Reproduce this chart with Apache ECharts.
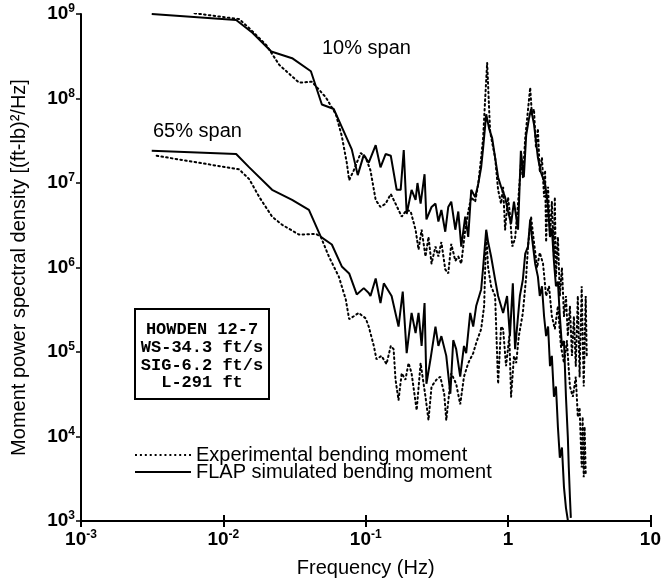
<!DOCTYPE html>
<html style="height: 100%">
<head>
<meta charset="utf-8">
<script src="https://cdn.jsdelivr.net/npm/echarts@6/dist/echarts.min.js"></script>
<title>Moment power spectral density</title>
</head>
<body style="height: 100%; margin: 0; background: #fff">
<div id="container" style="width: 664px; height: 583px"></div>
<script type="text/javascript">

// [frequency Hz, PSD (ft-lb)^2/Hz]
const sim10 = [
  [0.00314, 1.0e9], [0.0123, 8.5e8], [0.0160, 6.0e8], [0.0217, 3.6e8], [0.0304, 3.0e8],
  [0.0412, 2.1e8], [0.0492, 8.5e7], [0.0597, 7.5e7], [0.0798, 2.5e7], [0.0879, 1.24e7],
  [0.0969, 2.15e7], [0.105, 1.74e7], [0.1175, 2.8e7], [0.127, 1.53e7], [0.138, 2.2e7],
  [0.150, 2.1e7], [0.165, 8.3e6], [0.176, 8.3e6], [0.185, 2.46e7], [0.194, 4.3e6],
  [0.210, 8.3e6], [0.224, 6.3e6], [0.231, 1.0e7], [0.243, 5.7e6], [0.259, 1.27e7],
  [0.267, 3.7e6], [0.290, 5.2e6], [0.309, 5.7e6], [0.324, 3.5e6], [0.340, 4.8e6],
  [0.362, 2.65e6], [0.380, 5.2e6], [0.399, 6.0e6], [0.426, 2.8e6], [0.447, 4.6e6],
  [0.469, 1.77e6], [0.500, 4.0e6], [0.525, 2.3e6], [0.551, 8.3e6], [0.587, 6.8e6],
  [0.617, 9.7e6], [0.647, 1.53e7], [0.668, 2.6e7], [0.702, 6.5e7], [0.736, 4.4e7],
  [0.773, 3.4e7], [0.811, 2.0e7], [0.851, 1.17e7], [0.893, 9.0e6], [0.953, 6.8e6],
  [1.00, 4.6e6], [1.05, 3.3e6], [1.10, 6.0e6], [1.175, 2.8e6], [1.23, 2.4e7],
  [1.29, 1.17e7], [1.34, 3.66e7], [1.40, 5.7e7], [1.45, 7.5e7], [1.52, 5.0e7],
  [1.62, 2.0e7], [1.70, 1.34e7], [1.82, 9.7e6], [1.91, 5.2e6], [1.97, 2.3e6],
  [2.03, 2.9e6], [2.10, 1.18e6], [2.17, 6.0e5], [2.24, 6.8e5], [2.31, 2.65e5],
  [2.39, 1.18e5], [2.47, 1.35e5], [2.55, 2.95e4], [2.63, 9.7e3], [2.67, 4.3e3],
  [2.72, 1.9e3], [2.76, 1.09e3]
];

const exp10 = [
  [0.00627, 1.02e9], [0.0129, 8.7e8], [0.0152, 6.8e8], [0.0200, 4.3e8], [0.0247, 2.5e8],
  [0.0340, 1.54e8], [0.0419, 1.58e8], [0.0525, 1.03e8], [0.0617, 6.5e7], [0.0679, 3.6e7],
  [0.0736, 1.74e7], [0.0765, 1.08e7], [0.0824, 1.41e7], [0.0923, 2.27e7], [0.100, 2.0e7],
  [0.108, 1.41e7], [0.1175, 6.3e6], [0.127, 5.2e6], [0.138, 5.7e6], [0.150, 7.4e6],
  [0.162, 5.7e6], [0.179, 4.0e6], [0.194, 4.8e6], [0.207, 4.6e6], [0.224, 2.8e6],
  [0.235, 1.63e6], [0.247, 2.8e6], [0.263, 1.35e6], [0.276, 2.3e6], [0.290, 1.11e6],
  [0.309, 1.77e6], [0.324, 1.35e6], [0.340, 2.0e6], [0.362, 9.5e5], [0.380, 8.5e5],
  [0.399, 1.9e6], [0.426, 1.2e6], [0.447, 1.35e6], [0.469, 1.11e6], [0.500, 2.8e6],
  [0.525, 4.6e6], [0.551, 6.8e6], [0.587, 6.0e6], [0.617, 9.7e6], [0.647, 2.0e7],
  [0.668, 3.4e7], [0.690, 9.7e7], [0.713, 2.65e8], [0.736, 7.5e7], [0.748, 4.1e7],
  [0.773, 3.0e7], [0.811, 2.0e7], [0.851, 8.3e6], [0.893, 5.7e6], [0.923, 9.0e6],
  [0.953, 2.8e6], [1.00, 6.8e6], [1.03, 4.3e6], [1.07, 1.77e6], [1.12, 2.2e6],
  [1.175, 5.7e6], [1.23, 1.65e7], [1.27, 1.17e7], [1.32, 3.4e7], [1.36, 5.7e7],
  [1.43, 1.35e8], [1.47, 6.5e7], [1.52, 7.5e7], [1.57, 2.6e7], [1.62, 4.4e7],
  [1.67, 1.34e7], [1.73, 2.0e7], [1.79, 6.8e6], [1.82, 1.41e7], [1.85, 2.0e6],
  [1.91, 9.0e6], [1.97, 2.3e6], [2.03, 6.0e6], [2.10, 1.35e6], [2.13, 6.8e6],
  [2.17, 7.8e5], [2.24, 2.3e6], [2.31, 4.6e5], [2.39, 1.0e6], [2.47, 2.65e5],
  [2.55, 4.6e5], [2.63, 1.54e5], [2.72, 3.5e5], [2.81, 9.0e4], [2.90, 2.65e5],
  [2.99, 6.8e4], [3.09, 4.6e5], [3.18, 5.1e4], [3.29, 6.0e5], [3.40, 3.9e4],
  [3.51, 4.6e5], [3.57, 9.0e4]
];

const sim65 = [
  [0.00314, 2.4e7], [0.0123, 2.2e7], [0.0152, 1.53e7], [0.0220, 8.3e6], [0.0304, 6.3e6],
  [0.0399, 4.8e6], [0.0484, 2.3e6], [0.0578, 1.87e6], [0.0679, 1.03e6], [0.0765, 8.5e5],
  [0.0865, 4.8e5], [0.0969, 5.7e5], [0.105, 5.0e5], [0.108, 4.6e5], [0.1175, 7.4e5],
  [0.127, 3.8e5], [0.134, 6.5e5], [0.152, 4.6e5], [0.170, 2.0e5], [0.182, 5.2e5],
  [0.194, 9.7e4], [0.210, 2.9e5], [0.224, 1.67e5], [0.235, 2.9e5], [0.247, 1.18e5],
  [0.259, 3.8e5], [0.267, 4.2e4], [0.285, 8.2e4], [0.309, 2.0e5], [0.324, 1.18e5],
  [0.340, 1.54e5], [0.368, 9.0e4], [0.393, 3.2e4], [0.412, 1.38e5], [0.432, 1.08e5],
  [0.461, 5.1e4], [0.490, 1.18e5], [0.508, 9.7e4], [0.542, 2.9e5], [0.569, 2.0e5],
  [0.597, 3.5e5], [0.647, 5.5e5], [0.668, 1.0e6], [0.702, 2.8e6], [0.724, 2.0e6],
  [0.760, 1.35e6], [0.811, 7.2e5], [0.851, 4.6e5], [0.923, 2.9e5], [0.984, 4.6e5],
  [1.03, 1.54e5], [1.08, 6.5e5], [1.12, 1.08e5], [1.175, 2.65e5], [1.21, 4.6e5],
  [1.27, 7.2e5], [1.32, 1.46e6], [1.38, 1.77e6], [1.43, 3.7e6], [1.47, 2.3e6],
  [1.55, 1.11e6], [1.62, 7.8e5], [1.67, 4.6e5], [1.73, 6.0e5], [1.79, 2.65e5],
  [1.85, 1.54e5], [1.91, 2.0e5], [1.97, 6.8e4], [2.03, 9.0e4], [2.10, 2.95e4],
  [2.17, 3.9e4], [2.24, 1.28e4], [2.31, 5.6e3], [2.39, 7.4e3], [2.47, 2.5e3],
  [2.55, 1.43e3], [2.63, 1.02e3]
];

const exp65 = [
  [0.0034, 2.1e7], [0.0129, 1.45e7], [0.0152, 1.11e7], [0.0179, 6.8e6], [0.0220, 4.0e6],
  [0.0259, 3.2e6], [0.0340, 2.45e6], [0.0447, 2.5e6], [0.0484, 2.3e6], [0.0551, 1.35e6],
  [0.0647, 7.8e5], [0.0724, 4.2e5], [0.0765, 2.45e5], [0.0824, 2.65e5], [0.0893, 2.9e5],
  [0.100, 2.5e5], [0.105, 2.0e5], [0.114, 1.18e5], [0.119, 8.2e4], [0.129, 9.0e4],
  [0.140, 7.2e4], [0.150, 1.18e5], [0.157, 1.08e5], [0.162, 4.7e4], [0.170, 2.7e4],
  [0.179, 5.6e4], [0.190, 4.7e4], [0.200, 7.4e4], [0.210, 5.6e4], [0.228, 2.05e4],
  [0.243, 7.4e4], [0.263, 2.95e4], [0.276, 1.56e4], [0.290, 3.9e4], [0.314, 4.7e4],
  [0.334, 5.1e4], [0.356, 3.2e4], [0.368, 1.56e4], [0.399, 5.6e4], [0.432, 4.2e4],
  [0.461, 2.4e4], [0.490, 5.1e4], [0.525, 7.4e4], [0.569, 9.7e4], [0.597, 1.28e5],
  [0.647, 1.87e5], [0.679, 3.5e5], [0.702, 2.65e6], [0.724, 1.0e6], [0.760, 6.0e5],
  [0.811, 4.6e5], [0.851, 4.2e4], [0.893, 2.0e5], [0.923, 1.87e5], [0.968, 6.8e4],
  [1.02, 1.54e5], [1.05, 2.95e4], [1.10, 9.0e4], [1.14, 7.4e4], [1.19, 1.54e5],
  [1.27, 2.9e5], [1.34, 7.8e5], [1.38, 1.77e6], [1.45, 4.0e6], [1.52, 2.0e6],
  [1.60, 1.0e6], [1.67, 1.5e6], [1.76, 1.11e6], [1.85, 4.6e5], [1.94, 6.0e5],
  [2.03, 2.65e5], [2.13, 1.87e5], [2.24, 3.5e5], [2.35, 1.18e5], [2.47, 7.4e4],
  [2.59, 1.35e5], [2.72, 3.9e4], [2.85, 2.95e4], [2.99, 5.1e4], [3.09, 1.7e4],
  [3.18, 2.2e4], [3.29, 4.3e3], [3.34, 1.7e4], [3.40, 3.3e3], [3.45, 1.3e4],
  [3.51, 3.7e3]
];

const xTickLabels = { '0.001': '{b|10}{s|-3}', '0.01': '{b|10}{s|-2}', '0.1': '{b|10}{s|-1}', '1': '{b|1}', '10': '{b|10}' };
const boxLines = ['HOWDEN 12-7', 'WS-34.3 ft/s', 'SIG-6.2 ft/s', 'L-291 ft'];
const expName = 'Experimental bending moment';
const simName = 'FLAP simulated bending moment';

const font = 'Liberation Sans, Arial, sans-serif';
const richNum = {
  b: { fontSize: 19, fontWeight: 'bold', fontFamily: font, color: '#000', lineHeight: 22 },
  s: { fontSize: 12, fontWeight: 'bold', fontFamily: font, color: '#000', verticalAlign: 'top', lineHeight: 13 }
};

// legend sample icons: a row of small dots and a thin bar
let dotPath = 'path://';
for (let i = 0; i < 12; i++) dotPath += 'M' + (i * 5) + ',0h2v2h-2z';
const barPath = 'path://M0,0H60V2H0Z';

let chart = echarts.init(document.getElementById('container'));

const dotted = { color: '#000', width: 2, type: [1.6, 3.2], cap: 'round' };
const solid = { color: '#000', width: 2 };

function mkSeries(name, data, style) {
  return {
    name: name, type: 'line', data: data, symbol: 'none', showSymbol: false,
    lineStyle: style, itemStyle: { color: '#000' }, animation: false
  };
}

const boxGraphics = boxLines.map(function (t, i) {
  return {
    type: 'text', x: 202, y: 330 + i * 17.7, z: 10,
    style: {
      text: t, fill: '#000', align: 'center', verticalAlign: 'middle',
      font: 'bold 17px "Liberation Mono", "DejaVu Sans Mono", monospace'
    }
  };
});

chart.setOption({
  backgroundColor: '#fff',
  animation: false,
  grid: { left: 81, right: 11, top: 14, bottom: 60 },
  legend: {
    orient: 'vertical', left: 130, top: 440, itemWidth: 56, itemHeight: 2, itemGap: -3,
    textStyle: { fontSize: 20, lineHeight: 17, color: '#000', fontFamily: font },
    data: [
      { name: expName, icon: dotPath },
      { name: simName, icon: barPath }
    ]
  },
  xAxis: [
    {
      type: 'log', logBase: 10, min: 0.001, max: 10,
      name: 'Frequency (Hz)', nameLocation: 'middle', nameGap: 37,
      nameTextStyle: { fontSize: 20, color: '#000', fontFamily: font },
      axisLine: { lineStyle: { color: '#000', width: 2 } },
      axisTick: { length: 6, lineStyle: { color: '#000', width: 2 } },
      axisLabel: {
        margin: 8,
        formatter: function (v) { return xTickLabels[String(v)] || String(v); },
        rich: richNum
      },
      splitLine: { show: false }
    },
    {
      type: 'log', logBase: 10, min: 0.001, max: 10, position: 'bottom',
      axisLine: { show: false },
      axisTick: { inside: true, length: 6, lineStyle: { color: '#000', width: 2 } },
      axisLabel: { show: false },
      splitLine: { show: false }
    }
  ],
  yAxis: {
    type: 'log', logBase: 10, min: 1e3, max: 1e9,
    name: 'Moment power spectral density [(ft-lb)²/Hz]', nameLocation: 'middle', nameGap: 52,
    nameTextStyle: { fontSize: 20, color: '#000', fontFamily: font },
    axisLine: { lineStyle: { color: '#000', width: 2 } },
    axisTick: { length: 5, lineStyle: { color: '#000', width: 1.5 } },
    axisLabel: {
      margin: 6,
      formatter: function (v) { return '{b|10}{s|' + Math.round(Math.log10(v)) + '}'; },
      rich: richNum
    },
    splitLine: { show: false }
  },
  graphic: [
    { type: 'text', x: 322, y: 48, style: { text: '10% span', fill: '#000', verticalAlign: 'middle', font: '20px "Liberation Sans", Arial, sans-serif' } },
    { type: 'text', x: 153, y: 131, style: { text: '65% span', fill: '#000', verticalAlign: 'middle', font: '20px "Liberation Sans", Arial, sans-serif' } },
    { type: 'rect', shape: { x: 135, y: 309, width: 134, height: 90 }, style: { fill: '#fff', stroke: '#000', lineWidth: 2 }, z: 9 }
  ].concat(boxGraphics),
  series: [
    mkSeries(expName, exp10, dotted),
    mkSeries(simName, sim10, solid),
    mkSeries(expName, exp65, dotted),
    mkSeries(simName, sim65, solid)
  ]
});

</script>
</body>
</html>
